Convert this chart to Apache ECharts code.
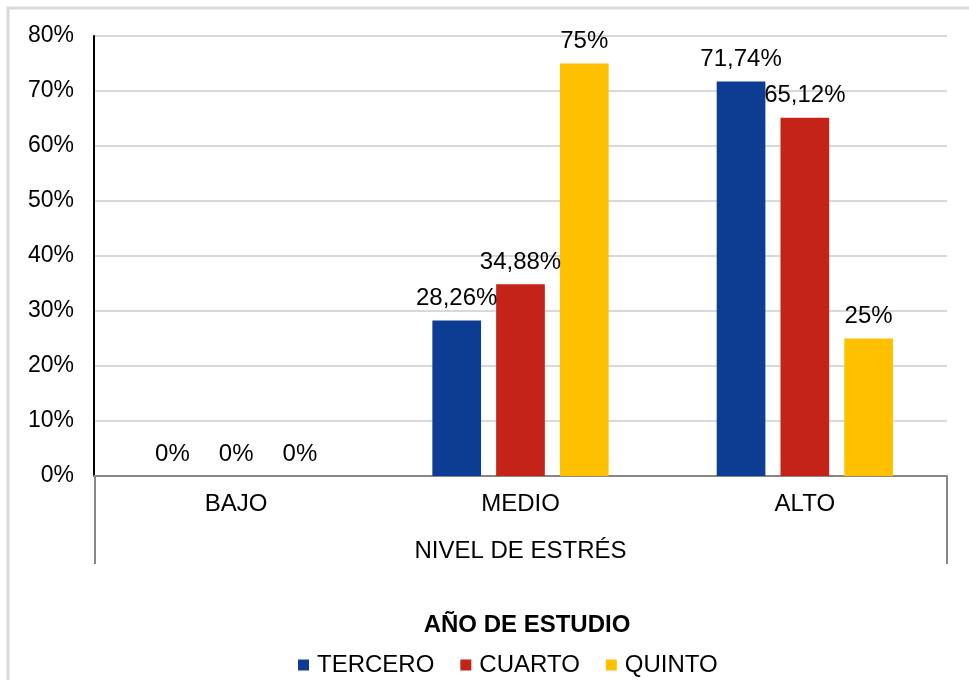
<!DOCTYPE html>
<html>
<head>
<meta charset="utf-8">
<script src="https://cdn.jsdelivr.net/npm/echarts@6/dist/echarts.min.js"></script>
<style>
  html, body { margin: 0; padding: 0; background: #fff; }
  #chart { width: 969px; height: 680px; }
</style>
</head>
<body>
<div id="chart"></div>
<script>
// datos del gráfico
var categorias = ["BAJO", "MEDIO", "ALTO"];
var tercero = [0, 28.26, 71.74];
var cuarto = [0, 34.88, 65.12];
var quinto = [0, 75, 25];
var seriesNombres = ["TERCERO", "CUARTO", "QUINTO"];
var ticksY = [0, 10, 20, 30, 40, 50, 60, 70, 80];

var colores = ["#0d3d92", "#c42417", "#ffc000"];
var fuente = "Liberation Sans, Arial, sans-serif";

// márgenes del área de trazado
var gLeft = 94, gRight = 22, gTop = 36, gBottom = 204;

function fmt(v) {
  return String(Math.round(v * 100) / 100).replace(".", ",") + "%";
}

function serie(nombre, datos, i) {
  return {
    name: nombre,
    type: "bar",
    data: datos,
    barGap: "31%",
    barCategoryGap: "38%",
    itemStyle: { color: colores[i] },
    label: {
      show: true,
      position: "top",
      distance: 10,
      color: "#000",
      fontFamily: fuente,
      fontSize: 24,
      formatter: function (p) { return fmt(p.value); }
    }
  };
}

var chart = echarts.init(document.getElementById("chart"));
chart.setOption({
  animation: false,
  textStyle: { fontFamily: fuente },
  grid: { left: gLeft, right: gRight, top: gTop, bottom: gBottom, containLabel: false },
  xAxis: {
    type: "category",
    data: categorias,
    axisLine: { lineStyle: { color: "#878787", width: 2 } },
    axisTick: { show: false },
    axisLabel: { color: "#000", fontSize: 24, margin: 16, fontFamily: fuente },
    name: "NIVEL DE ESTRÉS",
    nameLocation: "middle",
    nameGap: 63,
    nameTextStyle: { color: "#000", fontSize: 24, fontFamily: fuente }
  },
  yAxis: {
    type: "value",
    min: 0,
    max: 80,
    interval: 10,
    axisLine: { show: true, lineStyle: { color: "#000", width: 2 } },
    axisTick: { show: false },
    splitLine: { lineStyle: { color: "#d9d9d9", width: 2 } },
    axisLabel: {
      color: "#000",
      fontSize: 23,
      margin: 20,
      fontFamily: fuente,
      formatter: function (v) { return v + "%"; }
    }
  },
  legend: {
    top: 648,
    left: 293,
    itemWidth: 11,
    itemHeight: 11,
    itemGap: 26,
    icon: "rect",
    textStyle: { color: "#000", fontSize: 24, fontFamily: fuente, padding: [0, 0, 0, 3] },
    data: seriesNombres
  },
  title: {
    text: "AÑO DE ESTUDIO",
    left: 522,
    textAlign: "center",
    top: 608,
    textStyle: { color: "#000", fontSize: 24, fontWeight: "bold", fontFamily: fuente }
  },
  graphic: [
    // marco del gráfico
    {
      type: "rect",
      shape: { x: 8, y: 8, width: 1000, height: 700 },
      style: { fill: "none", stroke: "#d9d9d9", lineWidth: 3 },
      silent: true
    },
    // líneas laterales del eje de categorías
    {
      type: "line",
      shape: { x1: gLeft + 1, y1: 476, x2: gLeft + 1, y2: 564 },
      style: { stroke: "#878787", lineWidth: 2 },
      silent: true
    },
    {
      type: "line",
      shape: { x1: 969 - gRight, y1: 476, x2: 969 - gRight, y2: 564 },
      style: { stroke: "#878787", lineWidth: 2 },
      silent: true
    }
  ],
  series: [
    serie(seriesNombres[0], tercero, 0),
    serie(seriesNombres[1], cuarto, 1),
    serie(seriesNombres[2], quinto, 2)
  ]
});
</script>
</body>
</html>
